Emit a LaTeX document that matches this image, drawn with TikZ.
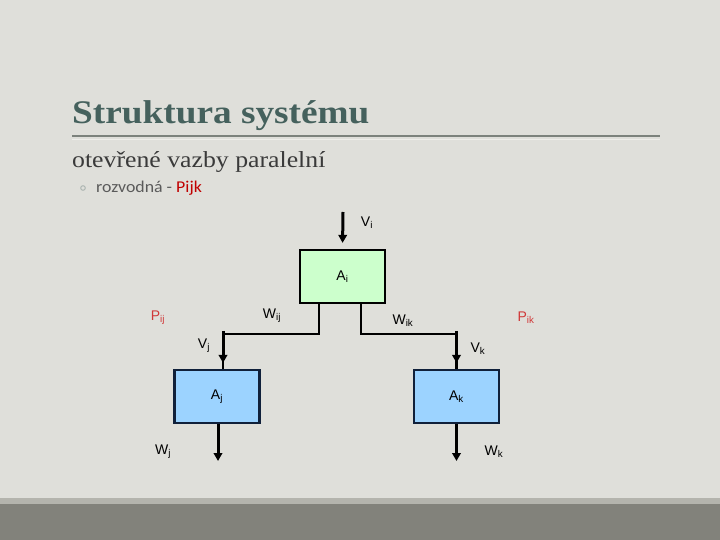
\documentclass[tikz,border=0pt]{standalone}
\usepackage{fontspec}
\setmainfont{Liberation Serif}
\newfontfamily\titlefont[FakeStretch=1.13]{Liberation Serif}
\newfontfamily\subfont[FakeStretch=1.12]{Liberation Serif}
\newfontfamily\labfont{Liberation Sans}
\newfontfamily\bodyfont[FakeStretch=1.08]{Carlito}
\usetikzlibrary{arrows.meta}
\definecolor{bg}{HTML}{DFDFDA}
\definecolor{stripe}{HTML}{B4B4AD}
\definecolor{band}{HTML}{82827B}
\definecolor{titlec}{HTML}{45615D}
\definecolor{rulec}{HTML}{7C827C}
\definecolor{rulelight}{HTML}{EEEEEA}
\definecolor{subc}{HTML}{3A3A3A}
\definecolor{bulletc}{HTML}{5A5A5A}
\definecolor{bulletdot}{HTML}{A8B2AE}
\definecolor{redc}{HTML}{C00000}
\definecolor{plab}{HTML}{D03838}
\definecolor{greenbox}{HTML}{CCFFCC}
\definecolor{bluebox}{HTML}{9CD3FF}
\definecolor{navy}{HTML}{10203A}
\tikzset{
  blockbox/.style={draw, line width=2.2pt, minimum width=85pt, minimum height=53pt, inner sep=0pt, font=\labfont\fontsize{14}{16}\selectfont},
  lab/.style={font=\labfont\fontsize{14}{16}\selectfont, inner sep=0pt},
  arr/.style={line width=3pt, -{Triangle[length=8pt,width=8.5pt]}},
  conn/.style={line width=2.4pt}
}
\begin{document}
\begin{tikzpicture}[x=1pt,y=-1pt]
\useasboundingbox (0,0) rectangle (720,540);
\fill[bg] (0,0) rectangle (720,540);
\fill[stripe] (0,498) rectangle (720,504);
\fill[band] (0,504) rectangle (720,540);
% header
\node[anchor=base west, inner sep=0pt, text=titlec, font=\titlefont\bfseries\fontsize{33}{38}\selectfont] (title) at (72,124) {Struktura systému};
\coordinate (rl) at (72,136);
\coordinate (rr) at (660,136);
\draw[rulec, line width=1.2pt] (rl) -- (rr);
\draw[rulelight, line width=1pt] ([yshift=-3.5pt]rl) -- ([yshift=-3.5pt]rr);
\node[anchor=base west, inner sep=0pt, text=subc, font=\subfont\fontsize{23}{27}\selectfont] (sub) at (72,168) {otevřené vazby paralelní};
\draw[bulletdot, line width=0.9pt] (83,188) circle (2.3pt);
\node[anchor=base west, inner sep=0pt, text=bulletc, font=\bodyfont\fontsize{16.5}{19}\selectfont] (bullet) at (96,193) {rozvodná - \textcolor{redc}{Pijk}};
% blocks
\node[blockbox, fill=greenbox] (Ai) at (342.5,276.5) {A\textsubscript{i}};
\node[blockbox, fill=bluebox, draw=navy] (Aj) at (217,396.5) {A\textsubscript{j}};
\node[blockbox, fill=bluebox, draw=navy] (Ak) at (456.5,396.5) {A\textsubscript{k}};
% connectors
\coordinate (vi) at (343,212);
\draw[arr, shorten >=6pt] (vi) -- (Ai.north);
\draw[conn] ([xshift=-23.5pt]Ai.south) -- ++(0,30) -| ([xshift=6pt]Aj.north);
\draw[arr, shorten >=6pt] ([xshift=6pt,yshift=38pt]Aj.north) -- ([xshift=6pt]Aj.north);
\draw[conn] ([xshift=18.5pt]Ai.south) -- ++(0,30) -| (Ak.north);
\draw[arr, shorten >=6pt] ([yshift=38pt]Ak.north) -- (Ak.north);
\coordinate (wjend) at (218,461);
\coordinate (wkend) at (456.5,461);
\draw[arr] ([xshift=1pt]Aj.south) -- (wjend);
\draw[arr] (Ak.south) -- (wkend);
% labels
\node[lab] (lVi) at (367,223) {V\textsubscript{i}};
\node[lab, text=plab] (lPij) at (158,318) {P\textsubscript{ij}};
\node[lab] (lWij) at (272,316) {W\textsubscript{ij}};
\node[lab] (lWik) at (403,321) {W\textsubscript{ik}};
\node[lab, text=plab] (lPik) at (526,318) {P\textsubscript{ik}};
\node[lab] (lVj) at (204,346) {V\textsubscript{j}};
\node[lab] (lVk) at (478,349) {V\textsubscript{k}};
\node[lab] (lWj) at (163,452) {W\textsubscript{j}};
\node[lab] (lWk) at (494,452) {W\textsubscript{k}};
\end{tikzpicture}
\end{document}
